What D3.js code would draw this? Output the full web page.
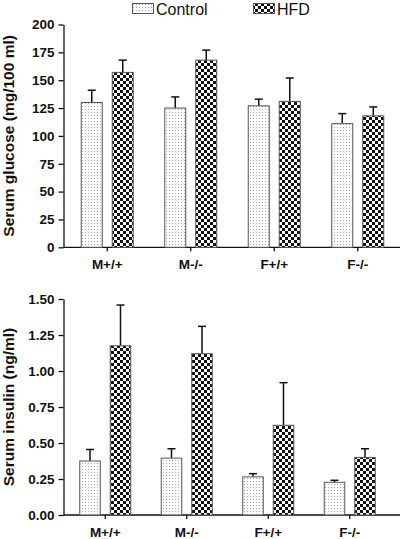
<!DOCTYPE html>
<html>
<head>
<meta charset="utf-8">
<script src="https://cdn.jsdelivr.net/npm/d3@7"></script>
<style>
  html, body { margin: 0; padding: 0; background: #fff; }
  svg { display: block; font-family: "Liberation Sans", Arial, sans-serif; }
</style>
</head>
<body>
<svg id="chart" width="402" height="539"></svg>
<script>
// ---- data ----
const categories = ["M+/+", "M-/-", "F+/+", "F-/-"];
const groups = ["Control", "HFD"];

const glucoseControl = [130, 125, 127, 111];
const glucoseControlErr = [11, 10, 6, 9];
const glucoseHFD = [157, 168, 131, 118];
const glucoseHFDErr = [11, 9, 21, 8];
const glucoseTicks = [0, 25, 50, 75, 100, 125, 150, 175, 200];

const insulinControl = [0.375, 0.395, 0.265, 0.227];
const insulinControlErr = [0.08, 0.065, 0.022, 0.014];
const insulinHFD = [1.175, 1.12, 0.623, 0.40];
const insulinHFDErr = [0.283, 0.19, 0.296, 0.06];
const insulinTicks = [0, 0.25, 0.5, 0.75, 1.0, 1.25, 1.5];

const svg = d3.select("#chart");
const defs = svg.append("defs");

// stipple pattern for Control
const pc = defs.append("pattern").attr("id", "dots").attr("patternUnits", "userSpaceOnUse")
  .attr("width", 3).attr("height", 3);
pc.append("rect").attr("width", 3).attr("height", 3).attr("fill", "#fbfbfb");
pc.append("rect").attr("x", 1).attr("y", 1).attr("width", 1).attr("height", 1).attr("fill", "#a8a8a8");

// checkerboard pattern for HFD
const ph = defs.append("pattern").attr("id", "check").attr("patternUnits", "userSpaceOnUse")
  .attr("width", 6).attr("height", 6);
ph.append("rect").attr("width", 6).attr("height", 6).attr("fill", "#fff");
ph.append("rect").attr("x", 0).attr("y", 0).attr("width", 3).attr("height", 3).attr("fill", "#111");
ph.append("rect").attr("x", 3).attr("y", 3).attr("width", 3).attr("height", 3).attr("fill", "#111");

const fills = { Control: "url(#dots)", HFD: "url(#check)" };

// ---- legend ----
const legendItems = [{ g: "Control", x: 132, tx: 156 }, { g: "HFD", x: 253, tx: 277 }];
const lg = svg.append("g");
legendItems.forEach(it => {
  lg.append("rect").attr("x", it.x + 0.5).attr("y", 3.5).attr("width", 21).attr("height", 10)
    .attr("fill", fills[it.g]).attr("stroke", "#555").attr("stroke-width", 1);
  lg.append("text").attr("x", it.tx).attr("y", 14.5).attr("font-size", 16)
    .attr("fill", "#111").text(it.g);
});

function panel(opts) {
  const g = svg.append("g");
  const y = d3.scaleLinear().domain([0, opts.max]).range([opts.y0, opts.y1]);
  const x = d3.scaleBand().domain(categories).range(opts.xr);
  const xs = d3.scaleBand().domain(groups).range([-opts.half, opts.half]).paddingInner(opts.pin);

  // y axis
  const ya = g.append("g").attr("transform", `translate(${opts.axX},0)`)
    .call(d3.axisLeft(y).tickValues(opts.ticks).tickFormat(opts.fmt).tickSize(5).tickSizeOuter(0));
  ya.select(".domain").attr("stroke", "#111").attr("stroke-width", 1.3);
  ya.selectAll(".tick line").attr("stroke", "#111").attr("stroke-width", 1.3);
  ya.selectAll(".tick text").attr("font-size", 13.5).attr("font-weight", "bold")
    .attr("font-family", "'Liberation Sans', Arial, sans-serif").attr("fill", "#111").attr("x", -9);

  // x axis
  const xa = g.append("g").attr("transform", `translate(0,${opts.y0})`)
    .call(d3.axisBottom(x).tickSize(4).tickSizeOuter(0));
  xa.select(".domain").remove();
  xa.append("line").attr("x1", opts.axX).attr("x2", 400).attr("y1", 0).attr("y2", 0)
    .attr("stroke", "#111").attr("stroke-width", 1.3);
  xa.selectAll(".tick line").attr("stroke", "#111").attr("stroke-width", 1.3);
  xa.selectAll(".tick text").attr("font-size", 13.5).attr("font-weight", "bold")
    .attr("font-family", "'Liberation Sans', Arial, sans-serif").attr("fill", "#111").attr("y", 12);

  // y title
  g.append("text").attr("transform", `translate(13.5,${(opts.y0 + opts.y1) / 2}) rotate(-90)`)
    .attr("text-anchor", "middle").attr("font-size", 15.5).attr("font-weight", "bold")
    .attr("fill", "#111").text(opts.title);

  const rows = [];
  categories.forEach((c, i) => {
    groups.forEach(gr => {
      rows.push({ c, gr, v: opts.data[gr][i], e: opts.err[gr][i] });
    });
  });

  const bx = d => x(d.c) + x.bandwidth() / 2 + xs(d.gr);
  const cx = d => bx(d) + xs.bandwidth() / 2;

  // error bars (upper only)
  g.selectAll(".err").data(rows).enter().append("line")
    .attr("x1", cx).attr("x2", cx)
    .attr("y1", d => y(d.v)).attr("y2", d => y(d.v + d.e))
    .attr("stroke", "#111").attr("stroke-width", 1.5);
  g.selectAll(".cap").data(rows).enter().append("line")
    .attr("x1", d => cx(d) - 4).attr("x2", d => cx(d) + 4)
    .attr("y1", d => y(d.v + d.e)).attr("y2", d => y(d.v + d.e))
    .attr("stroke", "#111").attr("stroke-width", 1.5);

  // bars
  g.selectAll(".bar").data(rows).enter().append("rect")
    .attr("x", bx).attr("width", xs.bandwidth())
    .attr("y", d => y(d.v)).attr("height", d => y(0) - y(d.v))
    .attr("fill", d => fills[d.gr]).attr("stroke", "#555").attr("stroke-width", 1);
}

panel({
  max: 200, y0: 247.3, y1: 24.5, xr: [65.5, 399.5], axX: 63.5,
  half: 26, pin: 10 / 31, ticks: glucoseTicks, fmt: d3.format("d"),
  data: { Control: glucoseControl, HFD: glucoseHFD },
  err: { Control: glucoseControlErr, HFD: glucoseHFDErr },
  title: "Serum glucose (mg/100 ml)"
});

panel({
  max: 1.5, y0: 515, y1: 299, xr: [64.5, 390.5], axX: 63.5,
  half: 25.5, pin: 10 / 30.5, ticks: insulinTicks, fmt: d3.format(".2f"),
  data: { Control: insulinControl, HFD: insulinHFD },
  err: { Control: insulinControlErr, HFD: insulinHFDErr },
  title: "Serum insulin (ng/ml)"
});
</script>
</body>
</html>
